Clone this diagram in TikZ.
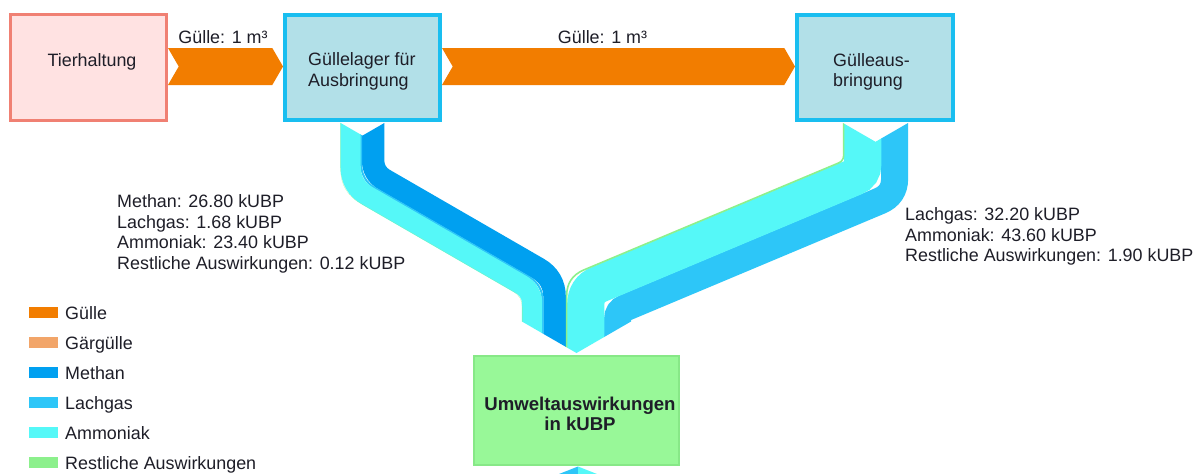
\documentclass[tikz,border=0pt]{standalone}
\usepackage{fontspec}
\setmainfont{Liberation Sans}
\usetikzlibrary{calc}

\definecolor{gulleC}{RGB}{242,125,0}
\definecolor{gaergulleC}{RGB}{242,165,105}
\definecolor{methanC}{RGB}{0,160,240}
\definecolor{lachgasC}{RGB}{45,198,248}
\definecolor{ammoniakC}{RGB}{85,248,248}
\definecolor{restC}{RGB}{140,240,140}
\definecolor{tierFill}{RGB}{255,226,226}
\definecolor{tierLine}{RGB}{240,128,115}
\definecolor{lagerFill}{RGB}{178,224,232}
\definecolor{lagerLine}{RGB}{25,190,240}
\definecolor{umweltFill}{RGB}{152,248,152}
\definecolor{umweltLine}{RGB}{135,232,135}
\definecolor{textC}{RGB}{30,30,40}

% geometry of the two emission flows (pixel units, y pointing down)
\newcommand\leftflow{\def\fxa{362.5}\def\fya{179.3}\def\fxb{544}\def\fyb{284.1}%
  \def\fux{0.8660}\def\fuy{0.5}\def\fsy{0.5774}\def\fsa{1}\def\fsb{-1}%
  \def\fth{0.2679}\def\fka{0.1755}\def\fR{60}}
\newcommand\rightflow{\def\fxa{875.5}\def\fya{182}\def\fxb{598.5}\def\fyb{298.3}%
  \def\fux{-0.9220}\def\fuy{0.3873}\def\fsy{-0.6646}\def\fsa{-1}\def\fsb{1}%
  \def\fth{0.2014}\def\fka{0.1330}\def\fR{60}}

% one coloured strip of a flow: colour, width, lateral offset
\newcommand\flowband[3]{%
  \pgfmathsetmacro\fbax{\fxa-(#3)}%
  \pgfmathsetmacro\fbay{\fya+(\fsy)*(#3)}%
  \pgfmathsetmacro\fbbx{\fxb-(#3)}%
  \pgfmathsetmacro\fbby{\fyb+(\fsy)*(#3)}%
  \pgfmathsetmacro\fbra{\fR+(\fsa)*(#3)}%
  \pgfmathsetmacro\fbrb{\fR+(\fsb)*(#3)}%
  \pgfmathsetmacro\fbta{\fbra*\fth}%
  \pgfmathsetmacro\fbma{\fbta-\fbra*\fka}%
  \pgfmathsetmacro\fbtb{\fbrb*\fth}%
  \pgfmathsetmacro\fbmb{\fbtb-\fbrb*\fka}%
  \pgfmathsetmacro\pAy{\fbay-\fbta}%
  \pgfmathsetmacro\qAy{\fbay-\fbma}%
  \pgfmathsetmacro\rAx{\fbax+(\fux)*\fbma}%
  \pgfmathsetmacro\rAy{\fbay+(\fuy)*\fbma}%
  \pgfmathsetmacro\sAx{\fbax+(\fux)*\fbta}%
  \pgfmathsetmacro\sAy{\fbay+(\fuy)*\fbta}%
  \pgfmathsetmacro\pBx{\fbbx-(\fux)*\fbtb}%
  \pgfmathsetmacro\pBy{\fbby-(\fuy)*\fbtb}%
  \pgfmathsetmacro\qBx{\fbbx-(\fux)*\fbmb}%
  \pgfmathsetmacro\qBy{\fbby-(\fuy)*\fbmb}%
  \pgfmathsetmacro\rBy{\fbby+\fbmb}%
  \pgfmathsetmacro\sBy{\fbby+\fbtb}%
  \draw[draw=#1, line width=#2pt]
    (\fbax,95) -- (\fbax,\pAy) .. controls (\fbax,\qAy) and (\rAx,\rAy) .. (\sAx,\sAy)
    -- (\pBx,\pBy) .. controls (\qBx,\qBy) and (\fbbx,\rBy) .. (\fbbx,\sBy) -- (\fbbx,380);
}

\tikzset{
  txt/.style={font=\fontsize{17.9}{20.5}\selectfont, text=textC, inner sep=0pt},
  boldtxt/.style={font=\fontsize{18.6}{20.5}\selectfont\bfseries, text=textC, inner sep=0pt},
  procbox/.style={draw=#1Line, fill=#1Fill, inner sep=0pt},
  legsq/.style={fill=#1, minimum width=29, minimum height=11, inner sep=0pt},
}

\begin{document}
\begin{tikzpicture}[x=1pt, y=-1pt]
\useasboundingbox (0,0) rectangle (1195,474);
\fill[white] (0,0) rectangle (1195,474);

% emissions of the manure store
\begin{scope}
  \clip (200,41.8) -- (362.5,135.6) -- (450,85.1) -- (700,85.1) -- (700,353)
        -- (576.5,353) -- (300,193.4) -- (200,193.4) -- cycle;
  \leftflow
  \flowband{methanC}{22.51}{-10.585}
  \flowband{lachgasC}{2.0}{1.375}
  \flowband{ammoniakC}{20.26}{11.91}
  \flowband{restC}{0.1}{21.79}
\end{scope}

% emissions of the spreading
\begin{scope}
  \clip (800,98.2) -- (875.5,141.8) -- (1000,69.9) -- (1000,474) -- (640,474)
        -- (640,316.3) -- (576.5,353) -- (560,343.5) -- (540,343.5) -- (540,98.2) -- cycle;
  \rightflow
  \flowband{lachgasC}{27.05}{-19.1}
  \flowband{ammoniakC}{37.2}{12.73}
  \flowband{restC}{1.6}{31.83}
\end{scope}

% process boxes
\node[procbox=tier, line width=3pt, minimum width=156, minimum height=106] (tier) at (88.5,67.5) {};
\node[procbox=lager, line width=4pt, minimum width=155, minimum height=105] (lager) at (362.5,67.5) {};
\node[procbox=lager, line width=4pt, minimum width=156, minimum height=105] (ausbr) at (875,67.5) {};
\node[procbox=umwelt, line width=2pt, minimum width=205, minimum height=109] (umwelt) at (576.5,410.5) {};

\node[txt, anchor=base] (tiertext) at (92,66) {Tierhaltung};
\node[txt, anchor=north west, align=left] (lagertext) at (308,52.8) {Güllelager für\\Ausbringung};
\node[txt, anchor=north west, align=left] (ausbrtext) at (833,53.3) {Gülleaus-\\bringung};
\node[boldtxt, anchor=north, align=center] (umwelttext) at (580,396.4) {Umweltauswirkungen\\in kUBP};

% manure flows
\fill[gulleC] ($(tier.east)+(0,-19.5)$) -- ($(lager.west)+(-10.7,-19.5)$) -- ($(lager.west)+(0,-1)$)
  -- ($(lager.west)+(-10.7,17.5)$) -- ($(tier.east)+(0,17.5)$) -- ($(tier.east)+(10.7,-1)$) -- cycle;
\fill[gulleC] ($(lager.east)+(0,-19.5)$) -- ($(ausbr.west)+(-10.7,-19.5)$) -- ($(ausbr.west)+(0,-1)$)
  -- ($(ausbr.west)+(-10.7,17.5)$) -- ($(lager.east)+(0,17.5)$) -- ($(lager.east)+(10.7,-1)$) -- cycle;
\node[txt, anchor=base] (flow1) at (223,43) {Gülle: 1 m³};
\node[txt, anchor=base] (flow2) at (602.5,43) {Gülle: 1 m³};

% flow values
\node[txt, anchor=north west, align=left] (leftvals) at (117,194.8)
  {Methan: 26.80 kUBP\\Lachgas: 1.68 kUBP\\Ammoniak: 23.40 kUBP\\Restliche Auswirkungen: 0.12 kUBP};
\node[txt, anchor=north west, align=left] (rightvals) at (905,207.8)
  {Lachgas: 32.20 kUBP\\Ammoniak: 43.60 kUBP\\Restliche Auswirkungen: 1.90 kUBP};

% outgoing flow below the impact box
\fill[lachgasC] (559,474) -- (578,466.5) -- (578,474) -- cycle;
\fill[ammoniakC] (578,466.5) -- (597,474) -- (578,474) -- cycle;

% legend
\foreach \c/\t [count=\i from 0] in {gulleC/Gülle, gaergulleC/Gärgülle, methanC/Methan,
    lachgasC/Lachgas, ammoniakC/Ammoniak, restC/Restliche Auswirkungen}{
  \node[legsq=\c] (legsq\i) at (43.5,312.5+30*\i) {};
  \node[txt, anchor=base west] (leglbl\i) at (65,319.5+30*\i) {\t};
}
\end{tikzpicture}
\end{document}
